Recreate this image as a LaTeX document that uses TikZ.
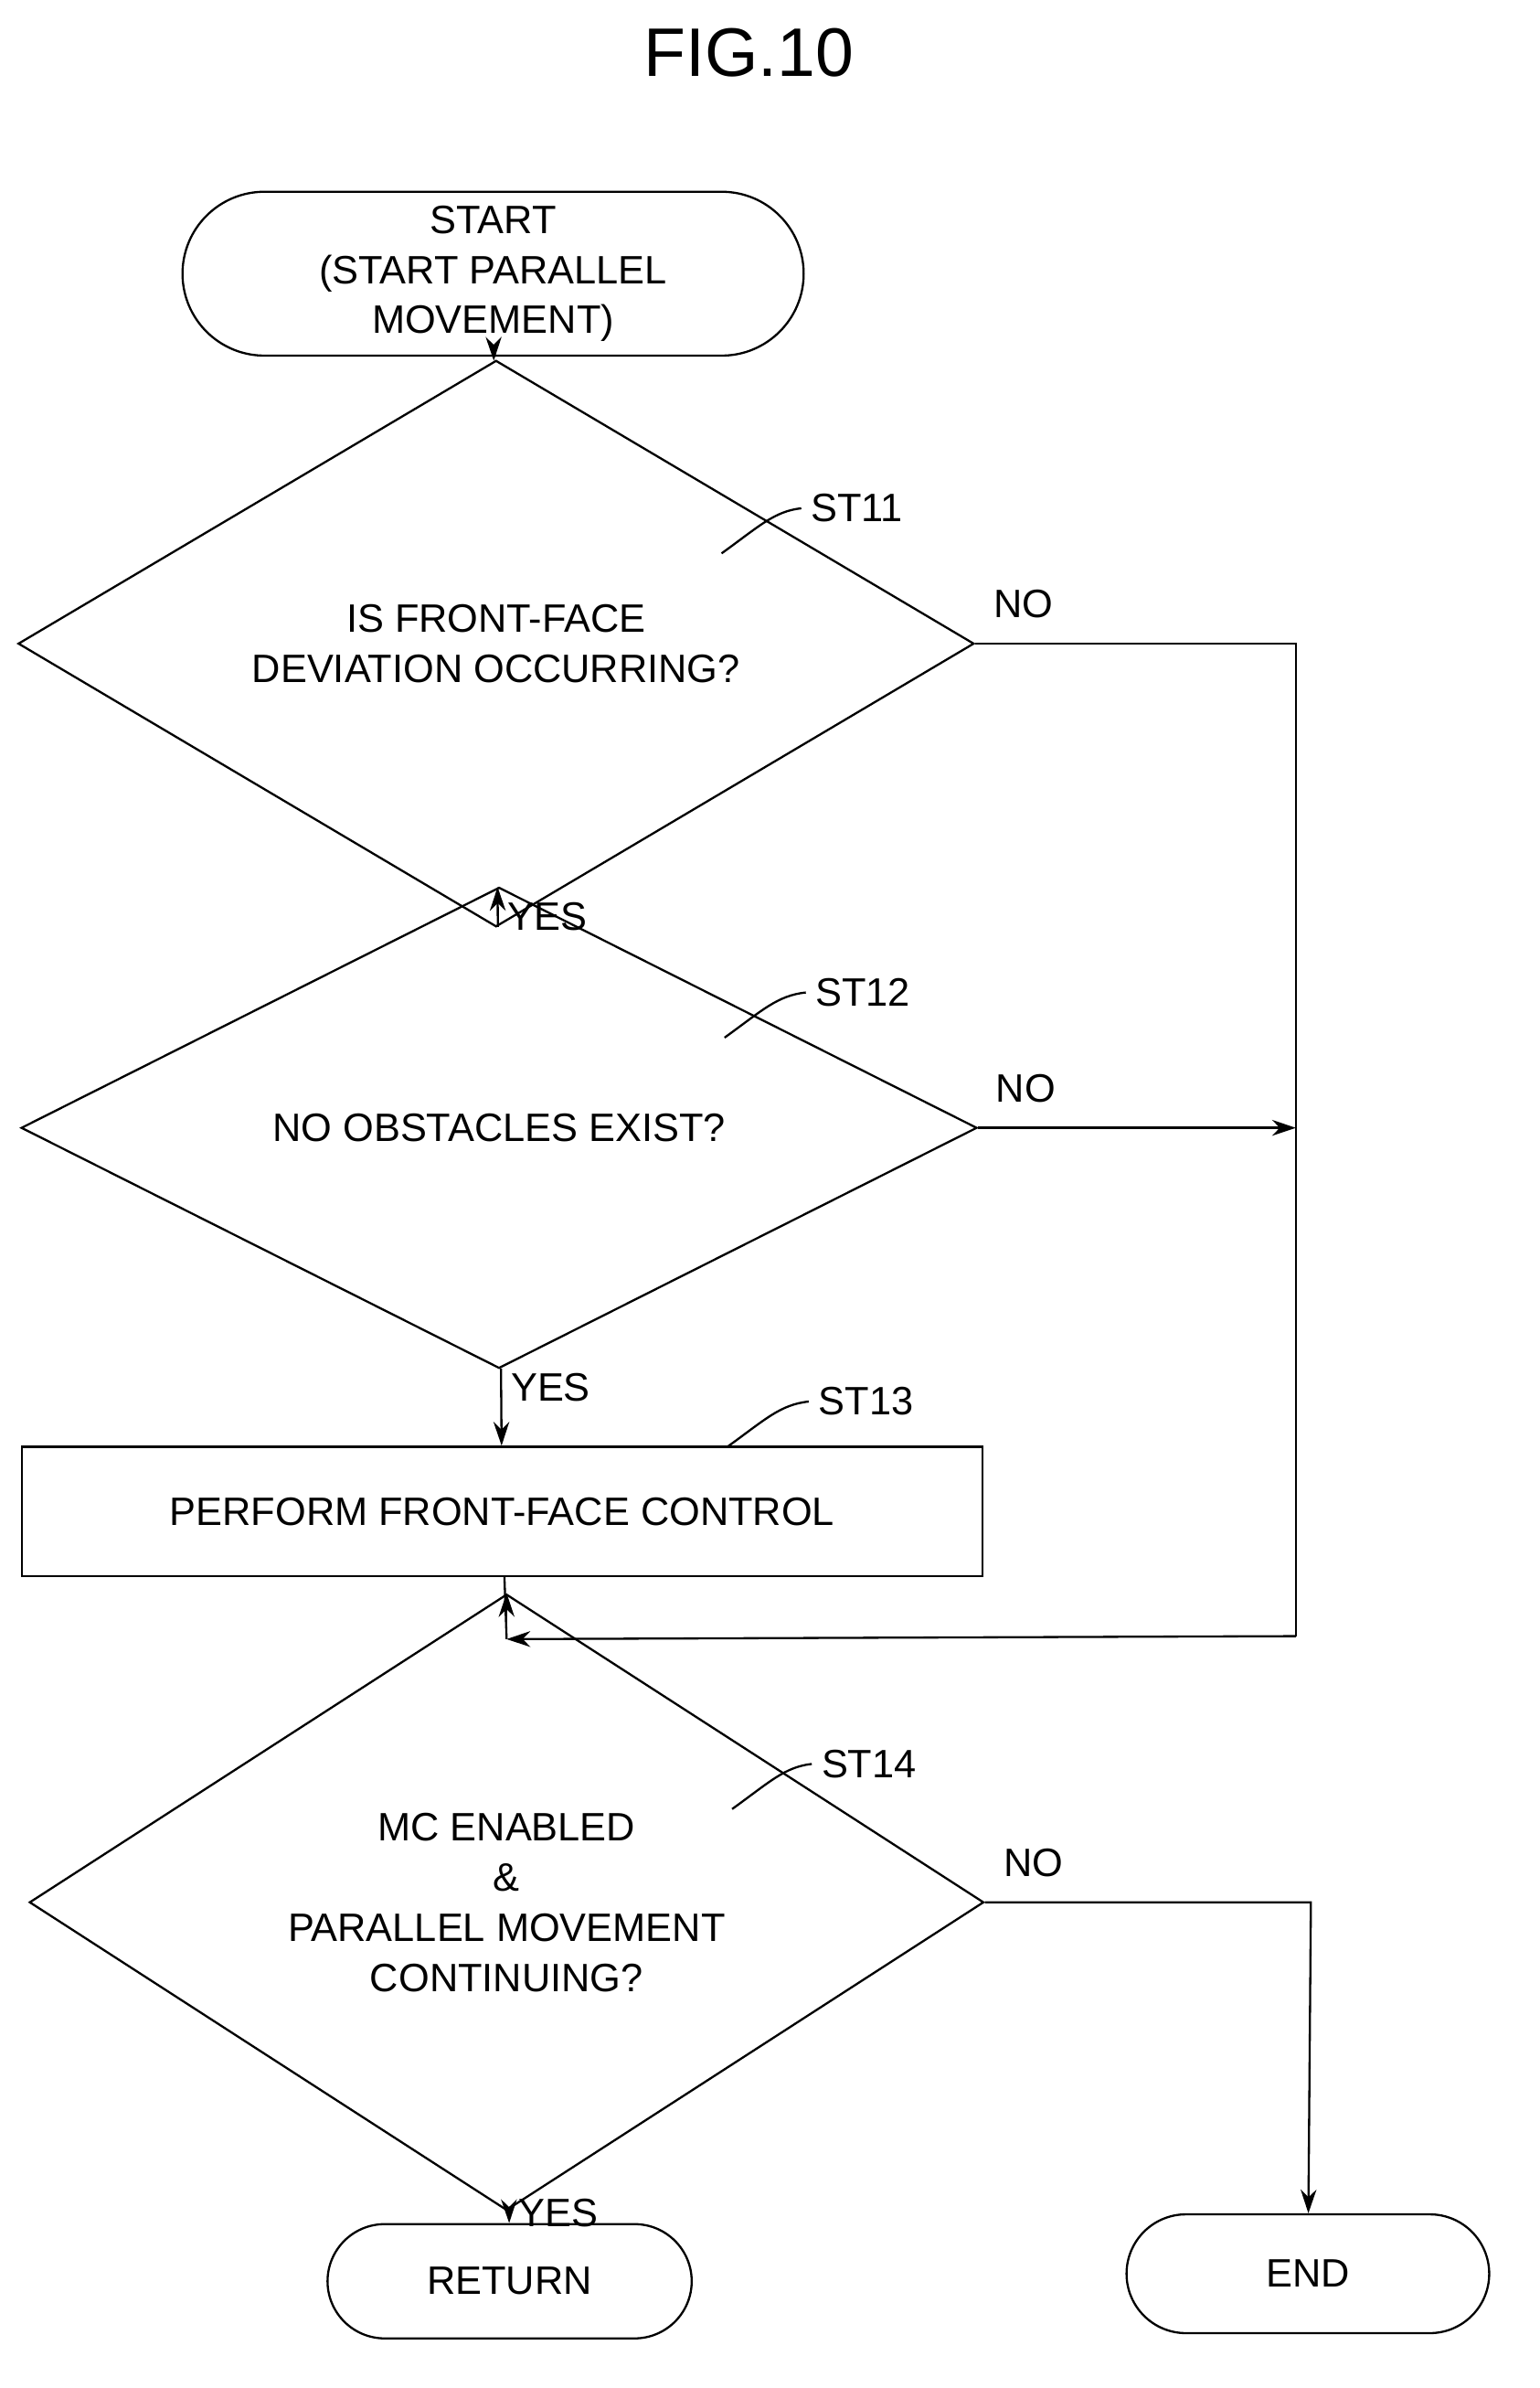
\documentclass[tikz,border=0pt]{standalone}
\usepackage{fontspec}
\setmainfont{Liberation Sans}
\usetikzlibrary{shapes.geometric, shapes.misc, arrows.meta}

\tikzset{
  every node/.style={font=\fontsize{15}{19}\selectfont},
  term/.style={draw, rounded rectangle, align=center},
  dec/.style={draw, diamond, inner sep=0pt, align=center},
  proc/.style={draw, rectangle, align=center},
  flow/.style={-{Stealth[length=9pt,width=6pt]}},
  tag/.style={font=\fontsize{15}{19}\selectfont}
}

\begin{document}
\begin{tikzpicture}[line width=0.8pt, x=0.02cm, y=-0.02cm]
    \useasboundingbox (0,0) rectangle (1024,1588);

    % Title
    \node[font=\fontsize{26}{30}\selectfont] (title) at (498,35) {FIG.10};

    % Nodes
    \node[term, minimum width=8.5cm, minimum height=2.18cm] (start) at (328,182) {START\\(START PARALLEL\\MOVEMENT)};
    \node[dec, minimum width=12.72cm, minimum height=4.26cm] (st11) at (330,428) {IS FRONT-FACE\\DEVIATION OCCURRING?};
    \node[dec, minimum width=12.72cm, minimum height=4.28cm] (st12) at (332,750) {NO OBSTACLES EXIST?};
    \node[proc, minimum width=12.78cm, minimum height=1.72cm] (st13) at (334,1005) {PERFORM FRONT-FACE CONTROL};
    \node[dec, minimum width=12.7cm, minimum height=4.28cm] (st14) at (337,1265) {MC ENABLED\\\&\\PARALLEL MOVEMENT\\CONTINUING?};
    \node[term, minimum width=5.08cm, minimum height=1.52cm] (ret) at (339,1517) {RETURN};
    \node[term, minimum width=5.06cm, minimum height=1.58cm] (end) at (870,1512) {END};

    % Junctions
    \coordinate (j1) at (862,428);
    \coordinate (j2) at (862,750);
    \coordinate (j3) at (862,1088);
    \coordinate (m1) at (337,1090);
    \coordinate (j4) at (872,1265);

    % Connectors
    \draw[flow] (start) -- (st11);
    \draw[flow] (st11) -- node[pos=0.25, right] {YES} (st12);
    \draw[flow] (st12) -- node[pos=0.25, right] {YES} (st13);
    \draw (st13) -- (m1);
    \draw[flow] (m1) -- (st14);
    \draw[flow] (st14) -- node[pos=0.25, right] {YES} (ret);
    \draw (st11.east) -- node[above, pos=0.15, yshift=6pt] {NO} (j1) -- (j3);
    \draw[flow] (j3) -- (m1);
    \draw[flow] (st12.east) -- node[above, pos=0.15, yshift=6pt] {NO} (j2);
    \draw[flow] (st14.east) -- node[above, pos=0.15, yshift=6pt] {NO} (j4) -- (end);

    % Step labels
    \node[tag, anchor=west] (l11) at (533,338) {ST11};
    \draw (480,368) .. controls (505,350) and (515,340) .. (l11.west);
    \node[tag, anchor=west] (l12) at (536,660) {ST12};
    \draw (482,690) .. controls (507,672) and (517,662) .. (l12.west);
    \node[tag, anchor=west] (l13) at (538,932) {ST13};
    \draw (484,962) .. controls (509,944) and (519,934) .. (l13.west);
    \node[tag, anchor=west] (l14) at (540,1173) {ST14};
    \draw (487,1203) .. controls (512,1185) and (522,1175) .. (l14.west);
\end{tikzpicture}
\end{document}
